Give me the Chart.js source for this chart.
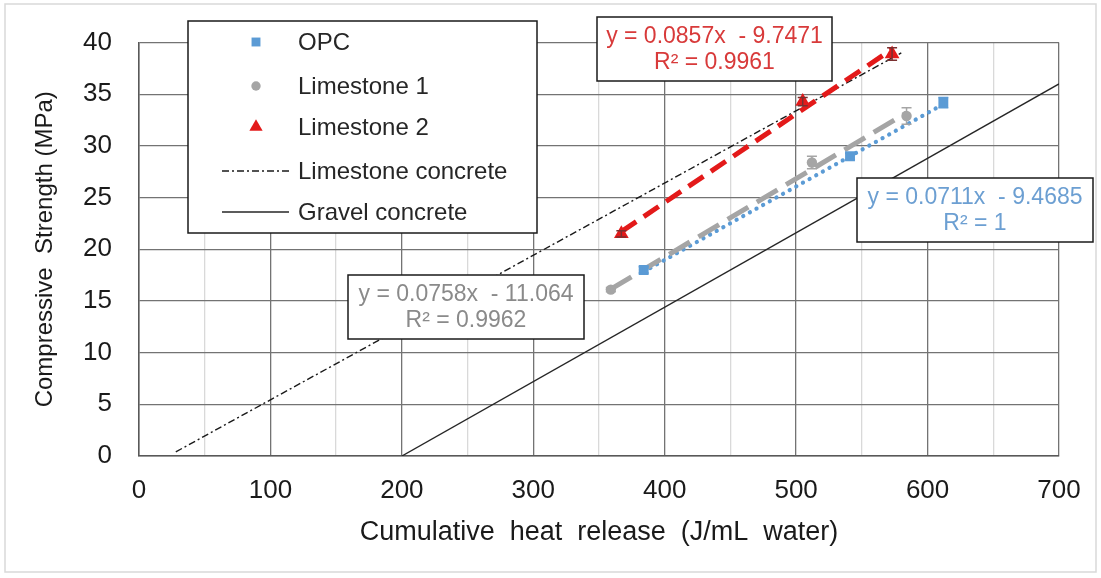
<!DOCTYPE html>
<html>
<head>
<meta charset="utf-8">
<script src="https://cdn.jsdelivr.net/npm/chart.js@4.4.1/dist/chart.umd.min.js"></script>
<style>
  html, body { margin: 0; padding: 0; background: #fff; }
  #wrap { width: 1101px; height: 578px; }
</style>
</head>
<body>
<div id="wrap"><canvas id="chart" width="1101" height="578"></canvas></div>
<script>
// cumulative heat release (J/mL water) vs compressive strength (MPa)
const opcHeat = [384, 541, 612];
const opcStrength = [18.0, 29.0, 34.2];
const opcErr = [0.3, 0.3, 0.5];

const lime1Heat = [359, 512, 584];
const lime1Strength = [16.1, 28.4, 32.9];
const lime1Err = [0.2, 0.6, 0.8];

const lime2Heat = [367, 505, 573];
const lime2Strength = [21.5, 34.3, 38.9];
const lime2Err = [0.3, 0.4, 0.6];

// reference concrete lines
const limeConcreteHeat = [28, 580];
const limeConcreteStrength = [0.4, 39.0];
const gravelHeat = [200, 700];
const gravelStrength = [0, 36];

// linear fits (OPC, Limestone 1, Limestone 2)
const fitSlope = [0.0711, 0.0758, 0.0857];
const fitIntercept = [-9.4685, -11.064, -9.7471];
const fitR2 = ['1', '0.9962', '0.9961'];

const xTicks = [0, 100, 200, 300, 400, 500, 600, 700];
const yTicks = [0, 5, 10, 15, 20, 25, 30, 35, 40];

const FONT = "'Liberation Sans', Arial, sans-serif";
const BLUE = '#5b9bd5';
const GREY = '#a5a5a5';
const RED = '#e31a1a';

function pts(xs, ys) {
    return xs.map((x, i) => ({ x: x, y: ys[i] }));
}

// trend line between the first and last x of a series
function fitLine(xs, k) {
    const x0 = Math.min(...xs), x1 = Math.max(...xs);
    return [
        { x: x0, y: fitSlope[k] * x0 + fitIntercept[k] },
        { x: x1, y: fitSlope[k] * x1 + fitIntercept[k] }
    ];
}

function eqText(k) {
    const b = fitIntercept[k];
    return 'y = ' + fitSlope[k] + 'x  ' + (b < 0 ? '- ' : '+ ') + Math.abs(b);
}

const datasets = [
    {
        label: 'OPC', data: pts(opcHeat, opcStrength), err: opcErr,
        pointStyle: 'rect', pointRadius: 7, backgroundColor: BLUE, borderColor: BLUE, borderWidth: 0
    },
    {
        label: 'Limestone 1', data: pts(lime1Heat, lime1Strength), err: lime1Err,
        pointStyle: 'circle', pointRadius: 5.2, backgroundColor: GREY, borderColor: GREY, borderWidth: 0
    },
    {
        label: 'Limestone 2', data: pts(lime2Heat, lime2Strength), err: lime2Err,
        pointStyle: 'triangle', pointRadius: 8.5, backgroundColor: RED, borderColor: RED, borderWidth: 0
    },
    {
        label: 'Limestone 2 fit', data: fitLine(lime2Heat, 2), showLine: true, pointRadius: 0,
        borderColor: RED, borderWidth: 5, borderDash: [18, 9]
    },
    {
        label: 'Limestone 1 fit', data: fitLine(lime1Heat, 1), showLine: true, pointRadius: 0,
        borderColor: GREY, borderWidth: 5, borderDash: [24, 10]
    },
    {
        label: 'OPC fit', data: fitLine(opcHeat, 0), showLine: true, pointRadius: 0,
        borderColor: BLUE, borderWidth: 4.2, borderDash: [0.1, 7.5], borderCapStyle: 'round'
    },
    {
        label: 'Limestone concrete', data: pts(limeConcreteHeat, limeConcreteStrength), showLine: true, pointRadius: 0,
        borderColor: '#1a1a1a', borderWidth: 1.4, borderDash: [7, 3, 2, 3]
    },
    {
        label: 'Gravel concrete', data: pts(gravelHeat, gravelStrength), showLine: true, pointRadius: 0,
        borderColor: '#262626', borderWidth: 1.4
    }
];

// legend rows: dataset index for each entry
const legendRows = [0, 1, 2, 6, 7];

// error bars drawn through the scales
const errorBars = {
    id: 'errorBars',
    afterDatasetsDraw(chart) {
        const ctx = chart.ctx;
        const xs = chart.scales.x, ys = chart.scales.y;
        ctx.save();
        chart.data.datasets.forEach(ds => {
            if (!ds.err) return;
            ctx.strokeStyle = ds.label === 'Limestone 2' ? '#7a3030' : ds.borderColor;
            ctx.lineWidth = 1.5;
            ds.data.forEach((p, i) => {
                const px = xs.getPixelForValue(p.x);
                const top = ys.getPixelForValue(p.y + ds.err[i]);
                const bot = ys.getPixelForValue(p.y - ds.err[i]);
                ctx.beginPath();
                ctx.moveTo(px, top); ctx.lineTo(px, bot);
                ctx.moveTo(px - 5, top); ctx.lineTo(px + 5, top);
                ctx.moveTo(px - 5, bot); ctx.lineTo(px + 5, bot);
                ctx.stroke();
            });
        });
        ctx.restore();
    }
};

// framed legend and fit equation boxes
const overlays = {
    id: 'overlays',
    beforeDraw(chart) {
        const ctx = chart.ctx;
        ctx.save();
        ctx.strokeStyle = '#d9d9d9';
        ctx.lineWidth = 1.5;
        ctx.strokeRect(5, 4, 1091, 568);
        ctx.restore();
    },
    afterDraw(chart) {
        const ctx = chart.ctx;
        ctx.save();

        // legend
        ctx.fillStyle = '#fff';
        ctx.fillRect(188, 21, 349, 212);
        ctx.strokeStyle = '#1a1a1a';
        ctx.lineWidth = 1.5;
        ctx.strokeRect(188, 21, 349, 212);
        ctx.font = '24px ' + FONT;
        ctx.textBaseline = 'middle';
        ctx.textAlign = 'left';
        const rowY = [42, 86, 127, 171, 212];
        legendRows.forEach((di, r) => {
            const ds = chart.data.datasets[di];
            const y = rowY[r];
            if (ds.showLine) {
                ctx.save();
                ctx.strokeStyle = ds.borderColor;
                ctx.lineWidth = ds.borderWidth;
                ctx.setLineDash(ds.borderDash || []);
                ctx.beginPath();
                ctx.moveTo(222, y); ctx.lineTo(289, y);
                ctx.stroke();
                ctx.restore();
            } else {
                ctx.fillStyle = ds.backgroundColor;
                ctx.strokeStyle = ds.borderColor;
                Chart.helpers.drawPoint(ctx, {
                    pointStyle: ds.pointStyle, radius: ds.pointRadius * 0.9, rotation: 0, borderWidth: 0
                }, 256, y);
            }
            ctx.fillStyle = '#262626';
            ctx.fillText(ds.label, 298, y + 1);
        });

        // equation boxes
        const boxes = [
            { k: 2, x: 597, y: 17, w: 235, h: 64, color: '#d83a3a' },
            { k: 1, x: 348, y: 275, w: 236, h: 64, color: '#8a8a8a' },
            { k: 0, x: 857, y: 178, w: 236, h: 64, color: '#6c9fd2' }
        ];
        boxes.forEach(b => {
            ctx.fillStyle = '#fff';
            ctx.fillRect(b.x, b.y, b.w, b.h);
            ctx.strokeStyle = '#1a1a1a';
            ctx.lineWidth = 1.5;
            ctx.strokeRect(b.x, b.y, b.w, b.h);
            ctx.fillStyle = b.color;
            ctx.font = '23px ' + FONT;
            ctx.textAlign = 'center';
            ctx.fillText(eqText(b.k), b.x + b.w / 2, b.y + 20);
            ctx.fillText('R\u00b2 = ' + fitR2[b.k], b.x + b.w / 2, b.y + 46);
        });
        ctx.restore();
    }
};

const config = {
    type: 'scatter',
    data: { datasets: datasets },
    options: {
        responsive: false,
        animation: false,
        layout: { padding: { top: 35, right: 42, left: 0, bottom: 0 } },
        plugins: {
            legend: { display: false },
            tooltip: { enabled: false }
        },
        scales: {
            x: {
                type: 'linear',
                min: xTicks[0],
                max: xTicks[xTicks.length - 1],
                ticks: {
                    stepSize: 50,
                    padding: 19,
                    color: '#1a1a1a',
                    font: { family: FONT, size: 26 },
                    callback: v => xTicks.includes(v) ? String(v) : ''
                },
                grid: {
                    drawTicks: false,
                    color: c => (c.tick && c.tick.value % 100 === 0) ? '#737373' : '#d9d9d9',
                    lineWidth: 1.3
                },
                border: { color: '#595959', width: 1.5 },
                title: {
                    display: true,
                    text: 'Cumulative  heat  release  (J/mL  water)',
                    color: '#1a1a1a',
                    font: { family: FONT, size: 27 },
                    padding: { top: 0, bottom: 29 }
                },
                afterFit: s => { s.height = 122; }
            },
            y: {
                type: 'linear',
                min: yTicks[0],
                max: yTicks[yTicks.length - 1],
                ticks: {
                    stepSize: 5,
                    padding: 27,
                    color: '#1a1a1a',
                    font: { family: FONT, size: 26 },
                    callback: v => yTicks.includes(v) ? String(v) : ''
                },
                grid: { drawTicks: false, color: '#737373', lineWidth: 1.3 },
                border: { color: '#595959', width: 1.5 },
                title: {
                    display: true,
                    text: 'Compressive  Strength (MPa)',
                    color: '#1a1a1a',
                    font: { family: FONT, size: 24 },
                    padding: { top: 31, bottom: 0 }
                },
                afterFit: s => { s.width = 139; }
            }
        }
    },
    plugins: [errorBars, overlays]
};

const chart = new Chart(document.getElementById('chart').getContext('2d'), config);
</script>
</body>
</html>
